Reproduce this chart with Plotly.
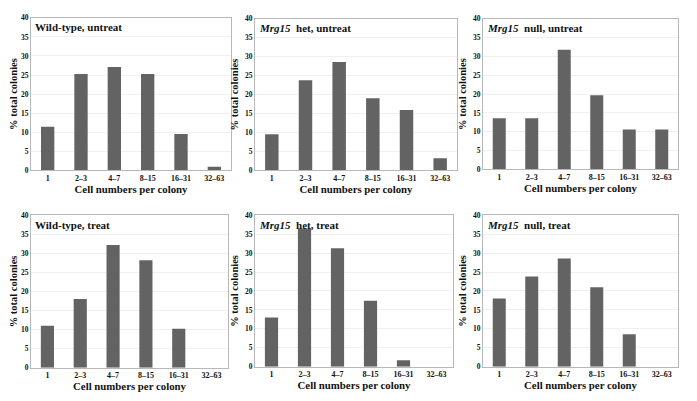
import plotly.graph_objects as go

categories = ["1", "2\u20133", "4\u20137", "8\u201315", "16\u201331", "32\u201363"]

wt_untreat = [11.4, 25.3, 27.1, 25.3, 9.5, 0.9]
het_untreat = [9.5, 23.8, 28.6, 19.0, 15.9, 3.2]
null_untreat = [13.6, 13.6, 31.8, 19.7, 10.6, 10.6]
wt_treat = [11.0, 18.0, 32.2, 28.2, 10.2, 0]
het_treat = [13.0, 36.5, 31.3, 17.4, 1.7, 0]
null_treat = [18.0, 23.8, 28.6, 21.0, 8.6, 0]

panel_titles = [
    "Wild-type, untreat",
    "<i>Mrg15</i>  het, untreat",
    "<i>Mrg15</i>  null, untreat",
    "Wild-type, treat",
    "<i>Mrg15</i>  het, treat",
    "<i>Mrg15</i>  null, treat",
]
panel_values = [wt_untreat, het_untreat, null_untreat, wt_treat, het_treat, null_treat]

# page body has an 8px default margin; compensate
OFF = 8
W, H = 697 - OFF, 401 - OFF
# pixel boxes in the reference (left, right, top, bottom)
boxes = [
    (31, 231, 14, 170),
    (255, 457, 15, 170),
    (483, 678, 15, 169),
    (31, 228, 216, 372),
    (255, 453, 216, 371),
    (483, 678, 216, 371),
]

FONT = "Liberation Serif, Times New Roman, serif"
fig = go.Figure()
annotations = []
layout = {}
for i, (vals, title, box) in enumerate(zip(panel_values, panel_titles, boxes)):
    n = i + 1
    xa = "xaxis" if n == 1 else f"xaxis{n}"
    ya = "yaxis" if n == 1 else f"yaxis{n}"
    xr = "x" if n == 1 else f"x{n}"
    yr = "y" if n == 1 else f"y{n}"
    l, r, t, b = [v - OFF for v in box]
    fig.add_trace(go.Bar(
        x=categories, y=vals, xaxis=xr, yaxis=yr,
        marker=dict(color="#636363", line=dict(width=0)),
        width=0.4, showlegend=False,
    ))
    layout[xa] = dict(
        domain=[l / W, r / W], anchor=yr, type="category",
        showline=True, linecolor="#b8b8b8", linewidth=1, mirror=True,
        ticks="", showgrid=False,
        tickfont=dict(family=FONT, size=8, color="#111111", weight="bold"),
        title=dict(text="<b>Cell numbers per colony</b>", standoff=1,
                   font=dict(family=FONT, size=10.8, color="#111111")),
        fixedrange=True,
    )
    layout[ya] = dict(
        domain=[1 - b / H, 1 - t / H], anchor=xr, range=[0, 40], dtick=5,
        showline=True, linecolor="#b8b8b8", linewidth=1, mirror=True,
        ticks="", showgrid=True, gridcolor="#f0f0f0", gridwidth=1,
        zeroline=False,
        tickfont=dict(family=FONT, size=7.5, color="#111111", weight="bold"),
        title=dict(text="<b>% total colonies</b>", standoff=4,
                   font=dict(family=FONT, size=10.5, color="#111111")),
        fixedrange=True,
    )
    annotations.append(dict(
        text="<b>" + title + "</b>", x=(l + 2) / W, y=1 - (t + 9.5) / H,
        xref="paper", yref="paper", xanchor="left", yanchor="middle",
        showarrow=False, font=dict(family=FONT, size=11, color="#111111"),
    ))

fig.update_layout(
    width=W, height=H, margin=dict(l=0, r=0, t=0, b=0),
    paper_bgcolor="white", plot_bgcolor="white",
    annotations=annotations, bargap=0.6,
    **layout,
)
fig.write_html("out.html")
